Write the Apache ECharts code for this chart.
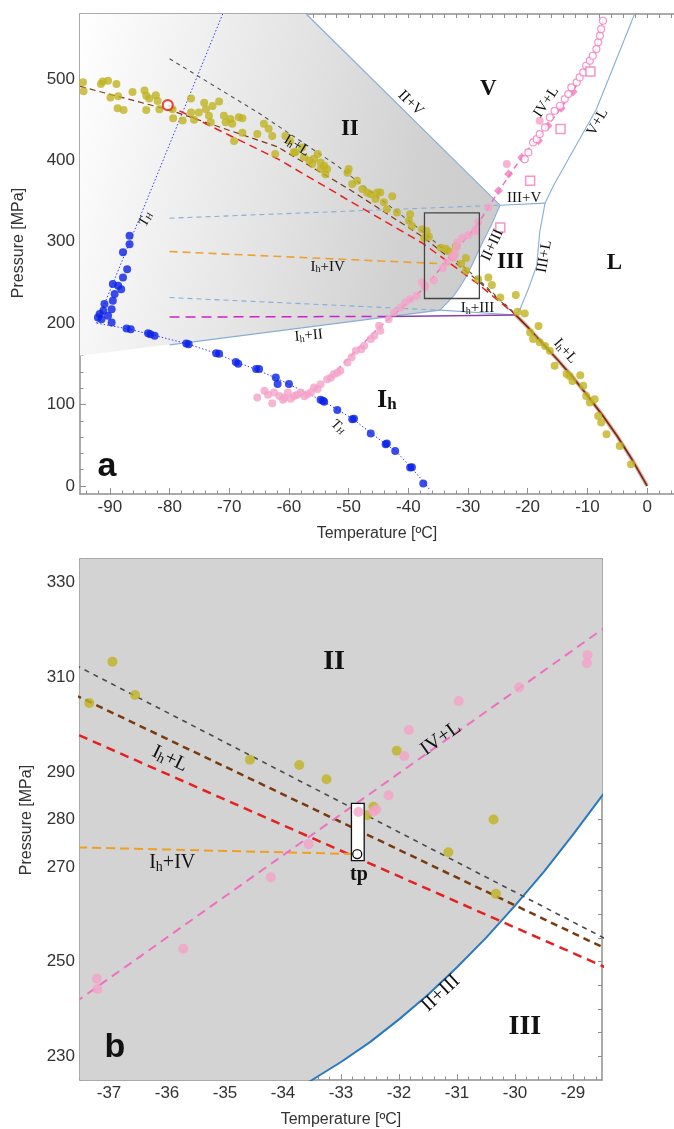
<!DOCTYPE html>
<html><head><meta charset="utf-8">
<script src="https://cdn.jsdelivr.net/npm/echarts@6/dist/echarts.min.js"></script>
<style>html,body{margin:0;padding:0;background:#fff}#c{width:674px;height:1129px}</style>
</head><body><div id="c"></div>
<script>
// ---------------- data (T in °C, P in MPa) ----------------
const oliveData = [
[-94.5,496],[-94.4,485],[-91.2,497],[-90.3,498],[-91.5,494],[-88.9,494],[-89.9,477.5],[-88.6,479],[-88.7,464],[-87.7,462],
[-86.2,484],[-84.2,486],[-83.9,479.5],[-83.4,476],[-82.3,480],[-82.0,473],[-83.9,462],[-81.7,463],[-79.5,463],[-79.4,452],
[-77.8,449],[-76.4,476],[-76.4,459],[-75.9,450],[-75.1,459],[-74.2,471],[-73.9,463],[-73.4,455],[-72.8,467],[-71.7,472.5],
[-73.1,447],[-70.9,455],[-70.6,447],[-69.8,451],[-69.5,445],[-68.4,453],[-67.8,452],[-67.8,434],[-69.2,424],[-65.3,432.5],
[-64.2,445],[-63.4,439],[-62.8,430],[-62.3,408],[-60.6,430],[-59.8,424],[-59.2,410],[-57.8,416],
[-58.9,410],[-57.5,404],[-56.6,400],[-55.8,402],[-55.2,408],[-56.1,395.5],[-54.7,397.5],[-54.1,393.5],[-53.6,389.5],[-54.7,389.5],
[-53.9,383],[-50.0,389.5],[-50.2,385],[-49.4,371],[-48.6,375],[-47.7,365],[-46.9,360.5],[-46.3,358.5],[-45.2,360.5],[-44.7,360.5],
[-45.5,352.5],[-44.1,348.5],[-42.7,356],[-43.6,340],[-41.9,336],[-39.7,334],[-39.9,326],[-39.4,319.5],[-37.7,315.5],
[-37.34,304.6],[-36.94,313.3],[-36.55,306.3],[-34.57,292.6],[-33.72,291.5],[-33.25,288.5],[-32.04,294.5],[-32.44,282.7],
[-32.55,280.9],[-30.37,280],[-31.15,273.1],[-30.33,264.3],
[-28.3,254],[-26.6,256],[-26.0,247],[-24.6,231.5],[-22.0,234.5],[-21.7,214],[-20.5,212],[-19.6,188.5],[-18.2,196.5],[-19.1,180.5],
[-18.0,176.5],[-17.1,172],[-16.3,166],[-15.5,147.5],[-13.5,137.5],[-13.0,135],[-12.5,129],[-11.2,136],[-10.7,123],[-10.2,110.5],
[-9.6,102.5],[-8.8,106.5],[-8.2,86],[-7.7,78],[-6.8,63.5],[-4.6,49],[-2.7,26.5]
];
const blueData = [
[-86.7,307.4],[-86.7,297.1],[-87.8,287],[-87.1,266.4],[-87.8,256.2],[-89.5,248],[-88.6,245.9],[-88.1,241.8],[-89.2,235.7],
[-90.9,223.4],[-89.5,227.4],[-91.1,215.1],[-89.7,217.2],[-91.7,211.1],[-91.4,204.9],[-90.3,209],[-89.7,200.9],[-92.0,207],
[-87.2,193.5],[-86.5,192.5],[-83.6,187.7],[-83.2,186.5],[-82.5,184.4],[-77.2,175.1],[-76.8,174],[-72.2,163.1],[-71.7,162.5],
[-68.9,152.4],[-68.5,150],[-65.5,143.5],[-65.0,143.5],[-62.2,133.3],[-61.9,125.1],[-60.0,125.1],[-54.7,105.8],[-54.1,103.3],
[-54.3,104.5],[-51.9,93.1],[-49.4,82],[-49.1,82.5],[-46.3,64.4],[-43.8,51.3],[-43.6,52],[-42.2,43],[-39.7,22.6],[-39.4,23],[-37.5,3]
];
const pinkData = [
[-65.3,108.7],[-64.1,116.8],[-62.8,101.7],[-62.5,114.8],[-61.6,110.6],[-60.8,108.7],[-60.2,114.8],[-59.1,110.6],[-58.0,114.8],
[-56.9,112.7],[-55.8,121],[-54.7,125],[-53.6,131.2],[-52.5,137.3],[-51.4,141.4],[-50.2,151.7],[-48.8,166],[-47.4,172.1],
[-46.3,180.4],[-45.7,184.4],[-44.7,190.6],[-44.9,196.7],[-43.3,204.9],[-41.3,219.3],[-40.5,225.4],
[-63.5,112],[-61.0,106],[-59.7,107],[-58.6,112],[-57.4,110],[-56.3,115],[-55.2,119],[-53.0,133],[-51.9,139],[-49.5,158],[-47.9,168],
[-42.4,213.2],[-39.7,229.5],[-38.6,233.6],[-37.7,250],
[-37.21,246.4],[-37.2,244.2],[-35.72,252.7],[-34.21,267.8],[-33.56,274.8],[-32.7,281.6],[-32.44,281.7],[-32.39,282.1],
[-32.18,285.1],[-31.91,293.4],[-31.83,298.9],[-30.97,305],[-29.93,307.9],[-28.75,314.7],[-28.76,313],[-28.3,324],
[-26.6,342.3],[-23.5,395.5],[-18.0,448.8]
];
const pinkDiamonds = [[-24.9,362.7],[-23.2,383.2],[-21.0,403.7],[-18.2,424.2],[-16.6,442.6],[-14.4,464],[-12.4,484.4]];
const pinkOpenCircles = [[-20.5,401.6],[-19.9,409.9],[-19.1,422.2],[-18.5,426.2],[-18.0,432.4],[-17.1,440.6],[-16.3,452.9],
[-15.5,461],[-14.6,467.2],[-13.8,475.4],[-13.2,481.6],[-12.7,489.8],[-11.8,495.9],[-11.3,502.1],[-10.7,508.2],[-10.2,516.4],
[-9.6,522.6],[-9.1,528.7],[-8.5,536.9],[-8.2,545.2],[-7.9,553.3],[-7.7,561.5],[-7.4,571.7]];
const pinkSquares = [[-24.6,317.7],[-19.6,374.9],[-14.5,438.5],[-9.5,509.2]];
const redCircle = [[-80.3,468]];

// phase boundaries
const iiV = [[-57.1,580],[-24.65,345]];
const iiiV = [[-24.65,345],[-17.1,347.5]];
const vL = [[-17.1,347.5],[-15.7,369],[-8.5,463],[-2.1,580]];
const iiiL = [[-17.1,347.5],[-18.0,311.5],[-18.5,270.5],[-19.9,242],[-21.3,217],[-22,210]];
const ihIII = [[-34.7,216],[-22,210]];
const ihII = [[-80,173.3],[-34.7,216]];
const iiIII = [[-34.7,216],[-34.1,220.5],[-33.5,225],[-33,228.8],[-32.5,233],[-32,237.8],[-31.5,243],[-31,248.8],[-30.5,255],
[-30,261.8],[-29.5,269],[-29,276.8],[-28.5,285],[-27.5,300],[-26,322],[-24.65,345]];
const ihIIlow = [[-95,160]];
const meltIh = [[-22,210],[-20,195],[-17.5,175],[-15,155],[-12.5,134],[-10,111],[-7.5,87],[-5,61],[-2.5,32],[0,0]];
// metastable / fitted lines
const grayIhL = [[-80,525],[-65,458],[-52,394],[-37.5,312.1],[-28.5,255.2],[-22,211]];
const brownIhL = [[-95,491],[-80,462],[-62,417],[-50,365],[-37.5,305.8],[-28.5,253.1],[-22,210]];
const redIhL = [[-80.3,468],[-70,431],[-61.9,402],[-50,351],[-37.5,297.7],[-28.5,249.1],[-22,210]];
const orangeIhIV = [[-80,288],[-37.5,274.1],[-32.72,272.7]];
const pinkIVL = [[-52,142],[-45.2,192.7],[-37.5,242.1],[-28.5,320.1],[-24.9,362],[-21,404],[-16.6,443],[-12.4,485],
[-10.2,515],[-8.5,538],[-7.4,572]];
const blueDashUp = [[-80,329],[-24.65,345]];
const blueDashLow = [[-80,231.5],[-34.7,216]];
const magentaDash = [[-80,207.5],[-43,208.3]];
const purpleSolid = [[-43,208.3],[-22,209.9]];
const thUpper = [[-92.2,200],[-71.1,580]];
const thLower = [[-92.2,200],[-87,193],[-83.6,187],[-77.2,175],[-72.2,163],[-68.9,152.5],[-65.5,143],[-62,132],[-60,125],
[-54.5,105],[-49.3,82.5],[-46.3,65],[-43.8,51.5],[-42,42],[-39.6,23],[-37.3,4],[-36.5,-4]];
const zoomBox = [[-37.3,230.3],[-28.1,335.6]];
const tpRect = [[-32.82,271.3],[-32.6,283.4]];
const tpPoint = [-32.72,272.7];

// tick labels
const xLabA = [-90,-80,-70,-60,-50,-40,-30,-20,-10,0];
const yLabA = [0,100,200,300,400,500];
const xLabB = [-37,-36,-35,-34,-33,-32,-31,-30,-29];
const yLabB = [230,250,270,280,290,310,330];

// annotations: [T, P, text, rotation, style]
const labelsA = [
 [-26.6,487.7,'V',0,'phase'],
 [-49.8,438.5,'II',0,'phase'],
 [-39.6,470.5,'II+V',-0.775,'bnd'],
 [-16.9,471.7,'IV+L',0.98,'bnd'],
 [-8.3,447,'V+L',1.06,'bnd'],
 [-20.6,354.3,'III+V',0,'bnd'],
 [-22.9,275.6,'III',0,'phase'],
 [-5.5,273.6,'L',0,'phase'],
 [-17.2,282,'III+L',1.4,'bnd'],
 [-25.9,296,'II+III',1.13,'bnd'],
 [-28.4,218.3,'I{h|h}+III',0,'bnd'],
 [-13.7,165.6,'I{h|h}+L',-0.85,'bnd'],
 [-43.6,105.4,'I{hb|h}',0,'phaseIh'],
 [-51.7,72.8,'T{i|H}',-0.65,'ital'],
 [-84.0,327.9,'T{i|H}',1.18,'ital'],
 [-58.7,418.2,'I{h|h}+L',-0.55,'bnd'],
 [-53.5,269.5,'I{h|h}+IV',0,'bnd'],
 [-56.7,184.6,'I{h|h}+II',0.1,'bnd'],
 [-90.5,24.2,'a',0,'panel']
];
const labelsB = [
 [-33.12,313.2,'II',0,'phaseB'],
 [-35.95,292.8,'I{h|h}+L',-0.45,'bndB'],
 [-31.28,297.1,'IV+L',0.62,'bndB'],
 [-35.91,270.8,'I{h|h}+IV',0,'bndB'],
 [-32.69,268.4,'tp',0,'tp'],
 [-31.28,243.3,'II+III',0.75,'bndB'],
 [-29.83,236.3,'III',0,'phaseB'],
 [-36.9,231.9,'b',0,'panel']
];

// ---------------- chart ----------------
function range(a,b,s){const r=[];for(let v=a;v<=b+1e-9;v+=s)r.push(Math.round(v*100)/100);return r;}
const SERIF='"Liberation Serif","DejaVu Serif",serif', SANS='"Liberation Sans",Arial,sans-serif';
const AX='#8f8f8f', TXT='#333';
const TS = {
 phase:{font:'bold 23px '+SERIF},
 phaseIh:{font:'bold 26px '+SERIF, rich:{hb:{font:'bold 17px '+SERIF, padding:[9,0,0,0]}}},
 bnd:{font:'15px '+SERIF, rich:{h:{font:'10px '+SERIF, padding:[6,0,0,0]}}},
 ital:{font:'italic 14px '+SERIF, rich:{i:{font:'italic 9px '+SERIF, padding:[6,0,0,0]}}},
 panel:{font:'bold 34px '+SANS},
 phaseB:{font:'bold 28px '+SERIF},
 bndB:{font:'20px '+SERIF, rich:{h:{font:'14px '+SERIF, padding:[8,0,0,0]}}},
 tp:{font:'bold 20px '+SERIF}
};

const R = {A:{x:[-95,4.5], y:[-10,580]}, B:{x:[-37.5,-28.5], y:[225,335]}};
function axSet(g, rg, isX, labs, majTicks, minTicks, name, showFar){
  const base = {gridIndex:g, type:'value', min:rg[0], max:rg[1], splitLine:{show:false}, axisPointer:{show:false}};
  const lbl = {fontSize:17, color:TXT, fontFamily:SANS, margin:5, customValues:labs};
  return [
    Object.assign({}, base, {position:isX?'bottom':'left', axisLine:{show:true, onZero:false, lineStyle:{color:AX,width:1.5}},
      axisTick:{show:true, inside:true, length:6, customValues:majTicks, lineStyle:{color:AX,width:1}},
      axisLabel:lbl,
      name: isX ? name : '', nameLocation:'middle', nameGap:32,
      nameTextStyle:{fontSize:16, color:TXT, fontFamily:SANS}}),
    Object.assign({}, base, {position:isX?'bottom':'left', axisLine:{show:false, onZero:false},
      axisTick:{show:true, inside:true, length:3.5, customValues:minTicks, lineStyle:{color:AX,width:1}},
      axisLabel:{show:false}}),
    Object.assign({}, base, {position:isX?'top':'right', show:showFar!==false, axisLine:{show:true, onZero:false, lineStyle:{color:AX,width:1.5}},
      axisTick:{show:true, inside:true, length:4, customValues:minTicks.concat(majTicks), lineStyle:{color:AX,width:1}},
      axisLabel:{show:false}})
  ];
}
const xAxes = [].concat(
  axSet(0, R.A.x, true, xLabA, xLabA, range(-94,4,2), 'Temperature [ºC]'),
  axSet(1, R.B.x, true, xLabB, xLabB, range(-37.4,-28.6,0.2), 'Temperature [ºC]'));
const yAxes = [].concat(
  axSet(0, R.A.y, false, yLabA, yLabA, range(0,560,20), '', false),
  axSet(1, R.B.y, false, yLabB, range(230,330,10), range(230,330,5)));

function line(data, color, width, type, ix, z){
  return {type:'line', data, xAxisIndex:ix, yAxisIndex:ix, showSymbol:false, symbol:'none', silent:true,
    animation:false, clip:true, z:z||3, lineStyle:{color, width, type:type||'solid'}};
}
function scat(data, ix, size, itemStyle, symbol, z){
  return {type:'scatter', data, xAxisIndex:ix, yAxisIndex:ix, symbol:symbol||'circle', symbolSize:size,
    itemStyle, silent:true, animation:false, z:z||5};
}
function polySeries(pts, ix, fill){
  return {type:'custom', xAxisIndex:ix, yAxisIndex:ix, clip:true, silent:true, z:1, data:[pts[0]],
    renderItem(params, api){
      return {type:'polygon', shape:{points:pts.map(p=>api.coord(p))}, style:{fill, stroke:null}};
    }};
}
function rectSeries(corners, ix, style, extraPoint){
  return {type:'custom', xAxisIndex:ix, yAxisIndex:ix, clip:true, silent:true, z:6, data:[corners[0]],
    renderItem(params, api){
      const a = api.coord(corners[0]), b = api.coord(corners[1]);
      const ch = [{type:'rect', shape:{x:Math.min(a[0],b[0]), y:Math.min(a[1],b[1]), width:Math.abs(b[0]-a[0]), height:Math.abs(b[1]-a[1])}, style}];
      if (extraPoint){ const c = api.coord(extraPoint); ch.push({type:'circle', shape:{cx:c[0], cy:c[1], r:4.5}, style:{fill:'#fff', stroke:'#111', lineWidth:1.3}}); }
      return {type:'group', children:ch};
    }};
}
function labelSeries(list, ix){
  return {type:'custom', xAxisIndex:ix, yAxisIndex:ix, silent:true, z:10, clip:false,
    data:list.map((l,i)=>[l[0],l[1],i]),
    renderItem(params, api){
      const l = list[api.value(2)];
      const p = api.coord([api.value(0), api.value(1)]);
      const st = TS[l[4]];
      return {type:'text', x:p[0], y:p[1], rotation:l[3],
        style:{text:l[2], font:st.font, fill:'#111', align:'center', verticalAlign:'middle', rich:st.rich||{}}};
    }};
}

const regionIIa = [[-95,580],[-57.1,580]].concat(iiIII.slice().reverse(), ihIIlow);
const regionIIb = [[-38,345]].concat(iiIII.slice().reverse(), [[-38,216]]);
const grad = new echarts.graphic.LinearGradient(0,0,1,0.25,[
  {offset:0,color:'#ffffff'},{offset:0.55,color:'#e2e2e2'},{offset:0.85,color:'#d1d1d1'},{offset:1,color:'#cdcdcd'}]);
const LB='#86aed6';
const pinkPt='#f4a2c8', pinkDk='#f07cbc';

const series = [
  // ----- panel a -----
  polySeries(regionIIa, 0, grad),
  line(iiV,LB,1.1,'solid',0), line(iiiV,LB,1.1,'solid',0), line(vL,LB,1.1,'solid',0),
  line(iiiL,LB,1.1,'solid',0), line(ihIII,LB,1.1,'solid',0), line(ihII,LB,1.1,'solid',0), line(iiIII,LB,1.1,'solid',0),
  line(blueDashUp,LB,1.1,[5,4],0), line(blueDashLow,LB,1.1,[5,4],0),
  line(orangeIhIV,'#f0a030',1.6,[8,5],0),
  line(magentaDash,'#cc22cc',1.5,[10,6],0), line(purpleSolid,'#8a3fa8',1.5,'solid',0),
  line(thUpper,'#3a3aff',1,[1.5,2],0), line(thLower,'#3a3aff',1,[1.5,2],0),
  line(grayIhL,'#555555',1.1,[4,4],0), line(brownIhL,'#7a3a14',1.2,[6,4],0), line(redIhL,'#e81e1e',1.5,[8,5],0),
  line(meltIh,'#e2b4ac',4,'solid',0), line(meltIh,'#7b2d14',1.8,'solid',0),
  line(pinkIVL,'#ee6fc0',1.5,[6,4],0),
  rectSeries(zoomBox, 0, {fill:null, stroke:'#444', lineWidth:1.3}),
  scat(oliveData,0,8,{color:'#bfb320'}),
  scat(blueData,0,8,{color:'#0a22e6'}),
  scat(pinkData,0,8,{color:pinkPt}),
  scat(pinkDiamonds,0,9,{color:pinkDk},'diamond'),
  scat(pinkOpenCircles,0,7,{color:'#fff', borderColor:pinkDk, borderWidth:1.2}),
  scat(pinkSquares,0,9,{color:'#fff', borderColor:pinkDk, borderWidth:1.5},'rect'),
  scat(redCircle,0,10,{color:'#fff', borderColor:'#e0201a', borderWidth:2.2},'circle',7),
  labelSeries(labelsA,0),
  // ----- panel b -----
  polySeries(regionIIb, 3, '#d3d3d3'),
  line(iiIII,'#2a78be',2,'solid',3),
  line(grayIhL,'#4a4a4a',1.6,[5,5],3), line(brownIhL,'#7a3a10',2.5,[7,5],3), line(redIhL,'#e62020',2.5,[9,6],3),
  line(orangeIhIV,'#f0a020',2,[9,5],3),
  line(pinkIVL,'#ee6fc0',2,[9,6],3),
  rectSeries(tpRect, 3, {fill:'#fff', stroke:'#111', lineWidth:1.3}, tpPoint),
  scat(oliveData,3,10,{color:'#bfb320'}),
  scat(pinkData,3,10,{color:pinkPt},'circle',7),
  labelSeries(labelsB,3)
];

const chart = echarts.init(document.getElementById('c'), null, {renderer:'canvas'});
chart.setOption({
  animation:false,
  backgroundColor:'#fff',
  grid:[{left:80, top:14, width:598, height:480}, {left:80, top:559, width:522, height:524}],
  xAxis:xAxes, yAxis:yAxes,
  graphic:[
    {type:'text', x:19, y:243, rotation:Math.PI/2, style:{text:'Pressure [MPa]', font:'16px '+SANS, fill:TXT, align:'center', verticalAlign:'middle'}},
    {type:'text', x:27, y:820, rotation:Math.PI/2, style:{text:'Pressure [MPa]', font:'16px '+SANS, fill:TXT, align:'center', verticalAlign:'middle'}}
  ],
  series
});
</script>
</body></html>
